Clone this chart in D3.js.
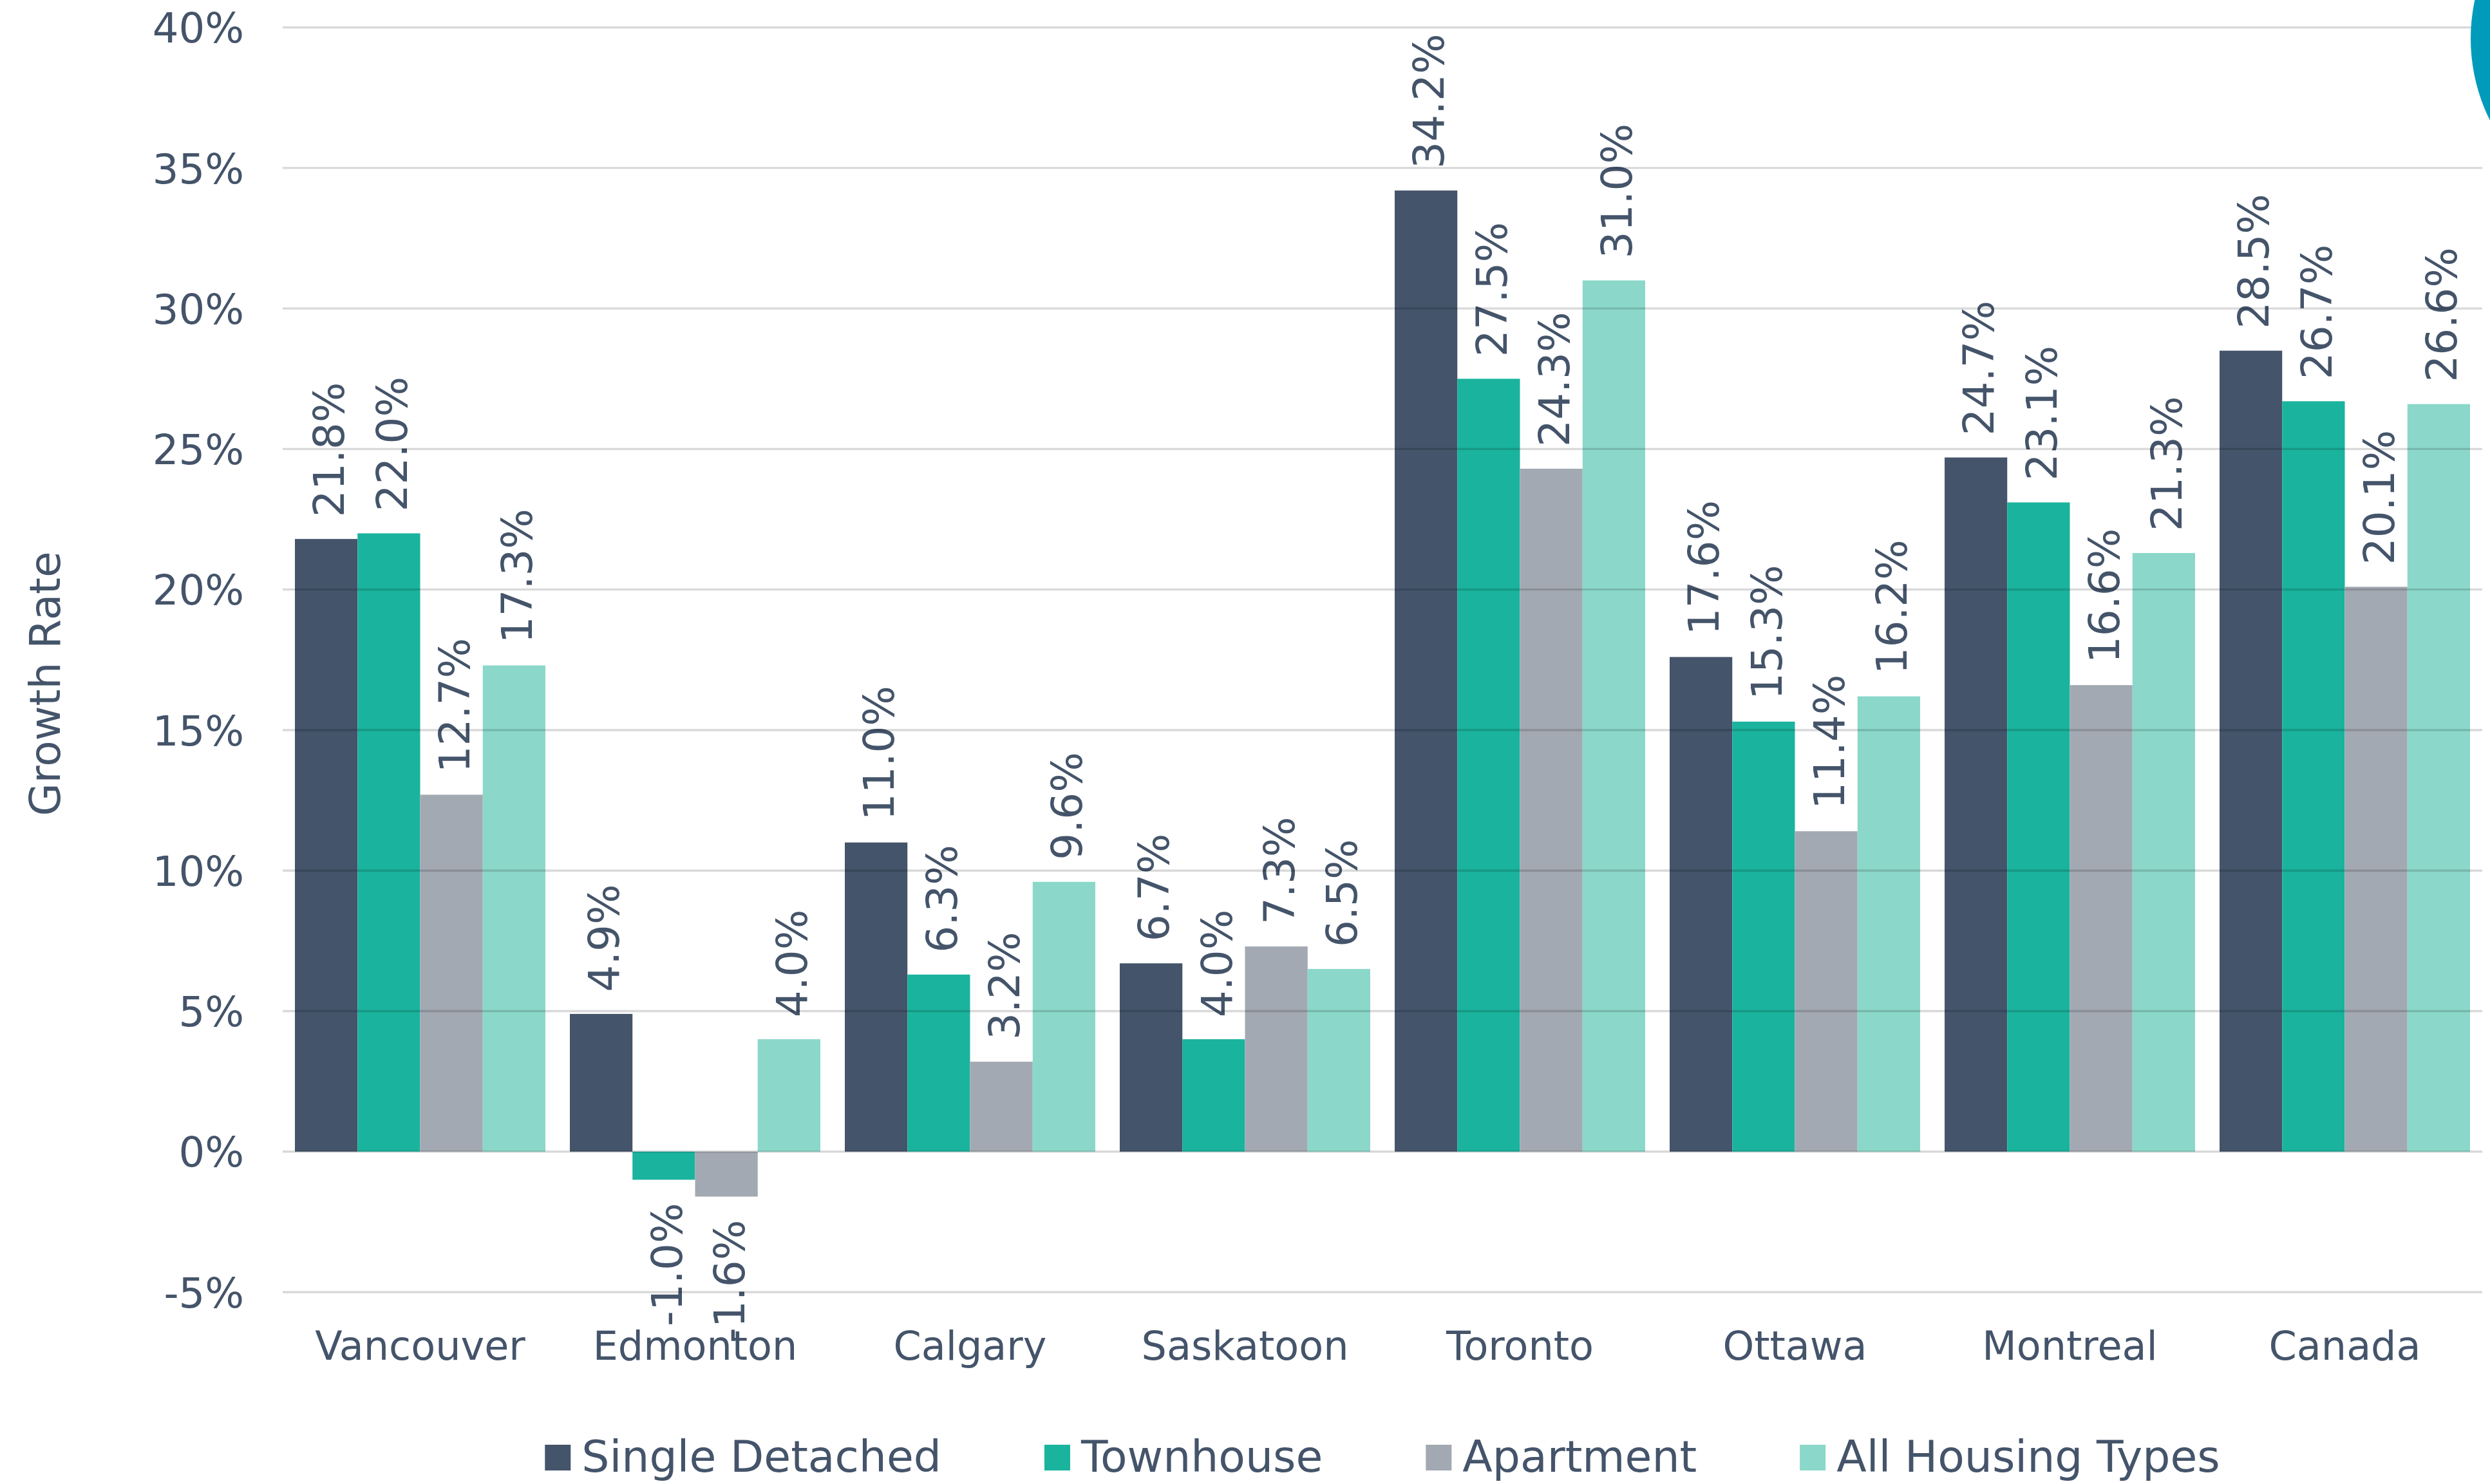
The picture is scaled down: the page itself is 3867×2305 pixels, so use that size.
<!DOCTYPE html>
<html>
<head>
<meta charset="utf-8">
<script src="https://cdn.jsdelivr.net/npm/d3@7"></script>
<style>
  html, body { margin: 0; padding: 0; background: #fff; }
  svg { display: block; }
  text { font-family: "DejaVu Sans", Verdana, sans-serif; fill: #44546A; }
</style>
</head>
<body>
<svg id="chart" width="3867" height="2305"></svg>
<script>
// ---- data ----
const categories = ["Vancouver", "Edmonton", "Calgary", "Saskatoon", "Toronto", "Ottawa", "Montreal", "Canada"];
const seriesNames = ["Single Detached", "Townhouse", "Apartment", "All Housing Types"];
const singleDetached = [21.8, 4.9, 11.0, 6.7, 34.2, 17.6, 24.7, 28.5];
const townhouse      = [22.0, -1.0, 6.3, 4.0, 27.5, 15.3, 23.1, 26.7];
const apartment      = [12.7, -1.6, 3.2, 7.3, 24.3, 11.4, 16.6, 20.1];
const allHousing     = [17.3, 4.0, 9.6, 6.5, 31.0, 16.2, 21.3, 26.6];
const yTicks = [-5, 0, 5, 10, 15, 20, 25, 30, 35, 40];
const yTitle = "Growth Rate";

const seriesValues = [singleDetached, townhouse, apartment, allHousing];
const colors = ["#44546A", "#1AB39D", "#A3A9B2", "#8BD8CA"];

// ---- layout ----
const svg = d3.select("#chart");
const plotLeft = 439, plotRight = 3855;
const y = d3.scaleLinear().domain([-5, 40]).range([2007, 42.7]);
const x0 = d3.scaleBand().domain(categories).range([plotLeft, plotRight])
  .paddingInner(0.089).paddingOuter(0.0445);
const x1 = d3.scaleBand().domain(seriesNames).range([0, x0.bandwidth()]);

// decorative circle top-right
svg.append("circle").attr("cx", 4121).attr("cy", 60).attr("r", 284).attr("fill", "#009BBB");

// bars
const groups = svg.append("g").selectAll("g").data(categories).join("g")
  .attr("transform", d => `translate(${x0(d)},0)`);
groups.selectAll("rect")
  .data((c, i) => seriesNames.map((s, j) => ({ s, j, v: seriesValues[j][i] })))
  .join("rect")
  .attr("x", d => x1(d.s))
  .attr("width", x1.bandwidth())
  .attr("y", d => y(Math.max(0, d.v)))
  .attr("height", d => Math.abs(y(d.v) - y(0)))
  .attr("fill", d => colors[d.j]);

// gridlines (drawn over bars, semi-transparent)
svg.append("g").selectAll("line").data(yTicks).join("line")
  .attr("x1", plotLeft).attr("x2", d => d === 40 ? 3838 : plotRight)
  .attr("y1", d => y(d)).attr("y2", d => y(d))
  .attr("stroke", "#000").attr("stroke-opacity", 0.15).attr("stroke-width", 3.3);

// y axis labels
const yAxis = d3.axisLeft(y).tickValues(yTicks).tickFormat(d => d + "%").tickSize(0).tickPadding(0);
const gy = svg.append("g").attr("transform", "translate(379,0)").call(yAxis);
gy.select(".domain").remove();
gy.selectAll("text").attr("font-size", 64).attr("fill", "#44546A")
  .style("font-family", '"DejaVu Sans", Verdana, sans-serif').attr("dy", "0.36em");

// x axis labels
const xAxis = d3.axisBottom(x0).tickSize(0).tickPadding(0);
const gx = svg.append("g").attr("transform", "translate(0,2068)").call(xAxis);
gx.select(".domain").remove();
gx.selectAll("text").attr("font-size", 62).attr("fill", "#44546A")
  .style("font-family", '"DejaVu Sans", Verdana, sans-serif').attr("dy", "0.71em");

// data labels
groups.selectAll("text.lbl")
  .data((c, i) => seriesNames.map((s, j) => ({ s, j, v: seriesValues[j][i] })))
  .join("text")
  .attr("class", "lbl")
  .attr("font-size", 66)
  .attr("transform", d => {
    const cx = x1(d.s) + x1.bandwidth() / 2 + 4;
    const yy = d.v >= 0 ? y(d.v) - 34 : y(d.v) + 36;
    return `translate(${cx},${yy}) rotate(-90)`;
  })
  .attr("text-anchor", d => d.v >= 0 ? "start" : "end")
  .attr("dy", "0.36em")
  .text(d => d.v.toFixed(1) + "%");

// y title
svg.append("text")
  .attr("transform", "translate(69,1062) rotate(-90)")
  .attr("text-anchor", "middle").attr("dy", "0.36em")
  .attr("font-size", 66).text(yTitle);

// legend
const legend = svg.append("g");
const sq = 40, gapText = 17, gapItem = 160, fs = 68;
const items = legend.selectAll("g").data(seriesNames).join("g");
items.append("rect").attr("width", sq).attr("height", sq).attr("y", 2244)
  .attr("fill", (d, i) => colors[i]);
items.append("text").attr("font-size", fs).attr("x", sq + gapText).attr("y", 2286).text(d => d);
const widths = [];
items.each(function () { widths.push(sq + gapText + d3.select(this).select("text").node().getComputedTextLength()); });
const total = d3.sum(widths) + gapItem * (widths.length - 1);
let cx = (plotLeft + plotRight) / 2 - total / 2;
items.each(function (d, i) {
  d3.select(this).attr("transform", `translate(${cx},0)`);
  cx += widths[i] + gapItem;
});
</script>
</body>
</html>
